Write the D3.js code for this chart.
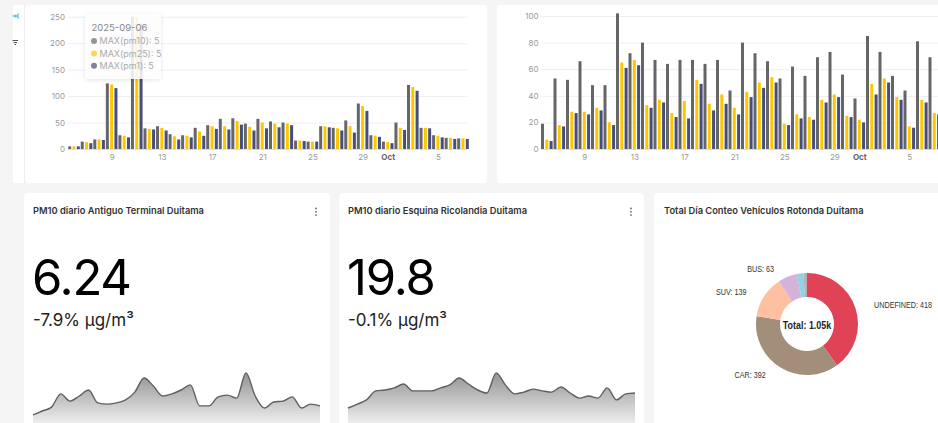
<!DOCTYPE html>
<html lang="en">
<head>
<meta charset="utf-8">
<title>Calidad del aire Duitama</title>
<script src="https://d3js.org/d3.v7.min.js" charset="utf-8"></script>
<style>
  body { margin: 0; background: #f5f5f5; font-family: Inter, "Noto Sans", sans-serif; }
  svg { display: block; }
  .axis path, .axis line { display: none; }
  .axis text { font-family: Inter, sans-serif; font-size: 8px; fill: #999; }
  .grid path { display: none; }
  .grid line { stroke: #eceef4; }
  .title { font-size: 9.3px; font-weight: 600; fill: #333; }
  .narrow { font-family: "Liberation Sans", Arial, sans-serif; }
</style>
</head>
<body>
<script>
// daily categories
const dates = ["2025-09-06","2025-09-07","2025-09-08","2025-09-09","2025-09-10","2025-09-11","2025-09-12","2025-09-13",
  "2025-09-14","2025-09-15","2025-09-16","2025-09-17","2025-09-18","2025-09-19","2025-09-20","2025-09-21",
  "2025-09-22","2025-09-23","2025-09-24","2025-09-25","2025-09-26","2025-09-27","2025-09-28","2025-09-29",
  "2025-09-30","2025-10-01","2025-10-02","2025-10-03","2025-10-04","2025-10-05","2025-10-06","2025-10-07"]
const seriesNames = ["MAX(pm10)", "MAX(pm25)", "MAX(pm1)"]
const seriesColors = ["#666666", "#FCC700", "#454E7C"]

// left bar chart
const leftPm10 = [5,14,18,124,26,250,39,43,28,26,40,45,57,58,48,57,52,50,16,14,43,40,54,86,26,14,50,121,40,26,21,20]
const leftPm25 = [5,13,18,122,25,250,38,40,24,25,33,43,43,53,42,50,48,48,16,14,43,39,43,81,25,13,40,117,40,25,21,20]
const leftPm1  = [5,11,17,115,22,237,37,35,18,22,25,38,37,46,35,39,41,45,15,14,41,35,31,72,23,11,36,110,39,22,19,19]
const leftYTicks = [0, 50, 100, 150, 200, 250]

// right bar chart
const rightPm10 = [19,53,52,66,48,48,102,72,80,67,64,67,67,64,67,44,80,72,66,53,62,55,69,73,56,38,85,73,55,44,81,69]
const rightPm25 = [7,18,28,28,31,20,65,67,33,37,27,36,52,34,41,31,43,50,54,19,26,24,37,41,25,22,49,53,39,17,37,27]
const rightPm1  = [6,17,27,26,29,18,61,63,31,35,24,23,49,29,34,26,39,46,50,18,23,22,35,39,24,20,41,50,37,16,35,26]
const rightYTicks = [0, 20, 40, 60, 80, 100]

const xTickDates = ["2025-09-09","2025-09-13","2025-09-17","2025-09-21","2025-09-25","2025-09-29","2025-10-01","2025-10-05"]

// big number cards
const cardTitles = ["PM10 diario Antiguo Terminal Duitama", "PM10 diario Esquina Ricolandia Duitama"]
const bigNumbers = ["6.24", "19.8"]
const subHeaders = ["-7.9% µg/m³", "-0.1% µg/m³"]
const trendA = [6.7,8,9.3,13.7,11.3,13,15,10.7,10.3,10.7,11.7,14.3,19,16.3,13,13.7,15,16.7,9.7,9.7,12.7,13.3,12.3,20.7,13,9,11,11.3,12.7,9,10.3,9.7]
const trendB = [9,10.3,11.7,14.7,15,15.7,17,14.7,14.7,14.7,15.7,16.7,19,17,15,14,20.7,16.7,13.7,14.3,15.3,14.7,14.3,16,14,12.3,13,12.3,15.7,11.7,13.7,14]

// donut
const vehicleTypes = ["UNDEFINED", "CAR", "SUV", "BUS", "TRUCK", "MOTORBIKE"]
const vehicleCounts = [418, 392, 139, 63, 22, 12]
const vehicleColors = ["#E04355", "#A38F79", "#FEC0A1", "#D3B3DA", "#8FD3E4", "#B2B2B2"]

const w = 938, h = 423
const parse = d3.timeParse("%Y-%m-%d")

const svg = d3.select("body").append("svg").attr("width", w).attr("height", h)

// cards
const cards = [[25,5,462,178],[497,5,460,178],[24,193,306,250],[339,193,305,250],[654,193,300,250]]
svg.selectAll("rect.card").data(cards).enter().append("rect")
  .attr("class", "card")
  .attr("x", d => d[0]).attr("y", d => d[1])
  .attr("width", d => d[2]).attr("height", d => d[3])
  .attr("rx", 4).attr("fill", "#fff")

// collapsed filter bar
svg.append("rect").attr("x", 13).attr("y", 5).attr("width", 11).attr("height", 178).attr("fill", "#fff")
svg.append("line").attr("x1", 24.5).attr("x2", 24.5).attr("y1", 5).attr("y2", 183).attr("stroke", "#eee")
svg.append("path").attr("d", "M12.5,16 H16.5 M15,14.5 L16.5,16 L15,17.5 M18,13.5 V18.5")
  .attr("stroke", "#1FA8C9").attr("fill", "none").attr("stroke-width", 1)
svg.append("path").attr("d", "M12.5,40.5 H18 M13.5,42.5 H17 M14.5,44.5 H16")
  .attr("stroke", "#555").attr("stroke-width", 1)

function drawBars(cfg) {
  const g = svg.append("g")
  const x = d3.scaleTime().domain([parse(dates[0]), parse(dates[dates.length - 1])]).range([cfg.x0, cfg.x1])
  const y = d3.scaleLinear().domain([0, d3.max(cfg.ticks)]).range([149, cfg.yTop])
  const sub = d3.scaleBand().domain(seriesNames).range([-5.8, 5.8]).paddingInner(0.3)

  g.append("g").attr("class", "grid")
    .attr("transform", "translate(" + cfg.gridX0 + ",0)")
    .call(d3.axisRight(y).tickValues(cfg.ticks).tickSize(cfg.gridX1 - cfg.gridX0).tickFormat(""))
  g.selectAll(".grid line").filter(d => d === 0).style("stroke", "#dcdde3")

  g.append("g").attr("class", "axis")
    .attr("transform", "translate(" + (cfg.gridX0 - 3) + ",0)")
    .call(d3.axisLeft(y).tickValues(cfg.ticks).tickSize(0).tickPadding(0))

  const xa = g.append("g").attr("class", "axis")
    .attr("transform", "translate(0,149)")
    .call(d3.axisBottom(x).tickValues(xTickDates.map(parse)).tickSize(0).tickPadding(5)
      .tickFormat(d => d.getDate() === 1 ? d3.timeFormat("%b")(d) : d3.timeFormat("%-d")(d)))
  xa.selectAll("text").filter(d => d.getDate() === 1).style("font-weight", "700").style("fill", "#666")

  const rows = dates.map((d, i) => ({ date: parse(d), values: cfg.series.map((s, k) => ({ name: seriesNames[k], v: s[i], k: k })) }))
  g.selectAll("g.day").data(rows).enter().append("g")
    .attr("transform", d => "translate(" + x(d.date) + ",0)")
    .selectAll("rect").data(d => d.values).enter().append("rect")
    .attr("x", d => sub(d.name))
    .attr("width", sub.bandwidth())
    .attr("y", d => y(d.v))
    .attr("height", d => y(0) - y(d.v))
    .attr("fill", d => seriesColors[d.k])
}

drawBars({ x0: 74, x1: 463, gridX0: 68, gridX1: 467, yTop: 16.7, ticks: leftYTicks, series: [leftPm10, leftPm25, leftPm1] })
drawBars({ x0: 546.8, x1: 934.3, gridX0: 541.5, gridX1: 960, yTop: 16, ticks: rightYTicks, series: [rightPm10, rightPm25, rightPm1] })

// tooltip on the left chart
const defs = svg.append("defs")
const sh = defs.append("filter").attr("id", "shadow").attr("x", "-20%").attr("y", "-20%").attr("width", "140%").attr("height", "140%")
sh.append("feDropShadow").attr("dx", 0).attr("dy", 1).attr("stdDeviation", 2).attr("flood-color", "#000").attr("flood-opacity", 0.12)
const tip = svg.append("g").attr("transform", "translate(85,14)")
tip.append("rect").attr("width", 76).attr("height", 65).attr("rx", 3)
  .attr("fill", "#fff").attr("fill-opacity", 0.86).attr("filter", "url(#shadow)")
tip.append("text").attr("x", 6.5).attr("y", 17).text(dates[0])
  .style("font-size", "9.5px").style("fill", "#888")
tip.selectAll("g.row").data(seriesNames).enter().append("g")
  .attr("transform", (d, i) => "translate(0," + (27 + i * 12.4) + ")")
  .each(function (d, i) {
    const r = d3.select(this)
    r.append("circle").attr("cx", 9).attr("cy", 0).attr("r", 3).attr("fill", seriesColors[i]).attr("opacity", 0.7)
    r.append("text").attr("x", 14.5).attr("y", 3.3)
      .text(d + ": " + [leftPm10, leftPm25, leftPm1][i][0])
      .style("font-size", "9px").style("fill", "#aaa")
  })

// big number cards
const bigCards = [{ x: 24, title: cardTitles[0], num: bigNumbers[0], sub: subHeaders[0], trend: trendA },
                  { x: 339, title: cardTitles[1], num: bigNumbers[1], sub: subHeaders[1], trend: trendB }]
const grad = defs.append("linearGradient").attr("id", "trendFill")
  .attr("gradientUnits", "userSpaceOnUse").attr("x1", 0).attr("x2", 0).attr("y1", 368).attr("y2", 430)
grad.append("stop").attr("offset", 0).attr("stop-color", "#8a8a8a")
grad.append("stop").attr("offset", 1).attr("stop-color", "#fafafa")

bigCards.forEach(c => {
  const g = svg.append("g").attr("transform", "translate(" + c.x + ",0)")
  g.append("text").attr("class", "title").attr("x", 9).attr("y", 213.5).text(c.title)
  g.selectAll("circle.k").data([0, 1, 2]).enter().append("circle")
    .attr("cx", 292).attr("cy", d => 208.5 + d * 3.3).attr("r", 0.9).attr("fill", "#666")
  g.append("text").attr("x", 8).attr("y", 295).text(c.num)
    .style("font-size", "49px").style("letter-spacing", "-1.2px").style("fill", "#000")
  g.append("text").attr("x", 9).attr("y", 326).text(c.sub)
    .style("font-size", "17px").style("fill", "#222")

  const x = d3.scaleLinear().domain([0, c.trend.length - 1]).range([9, 296])
  const y = d3.scaleLinear().domain([0, 25]).range([435, 360])
  g.append("path").datum(c.trend)
    .attr("d", d3.area().x((d, i) => x(i)).y0(y(0)).y1(d => y(d)).curve(d3.curveMonotoneX))
    .attr("fill", "url(#trendFill)")
  g.append("path").datum(c.trend)
    .attr("d", d3.line().x((d, i) => x(i)).y(d => y(d)).curve(d3.curveMonotoneX))
    .attr("fill", "none").attr("stroke", "#5f5f5f").attr("stroke-width", 1.4)
})

// donut card
svg.append("text").attr("class", "title").attr("x", 664).attr("y", 213.5).text("Total Día Conteo Vehículos Rotonda Duitama")
const total = d3.sum(vehicleCounts)
const pie = d3.pie().sort(null).value(d => d.v)
const arcs = pie(vehicleTypes.map((t, i) => ({ t: t, v: vehicleCounts[i], c: vehicleColors[i] })))
const arc = d3.arc().innerRadius(27).outerRadius(51)
const labelArc = d3.arc().innerRadius(60).outerRadius(60)
const donut = svg.append("g").attr("transform", "translate(807,324)")
donut.selectAll("path").data(arcs).enter().append("path")
  .attr("d", arc).attr("fill", d => d.data.c)
donut.selectAll("g.lbl").data(arcs.filter(d => d.data.v / total >= 0.05)).enter().append("g")
  .attr("transform", d => {
    const p = labelArc.centroid(d)
    return "translate(" + (p[0] + (p[0] > 0 ? 10 : -10)) + "," + p[1] + ") scale(0.82,1)"
  })
  .append("text")
  .attr("class", "narrow")
  .attr("dy", "0.35em")
  .attr("text-anchor", d => labelArc.centroid(d)[0] > 0 ? "start" : "end")
  .text(d => d.data.t + ": " + d.data.v)
  .style("font-size", "8.8px").style("fill", "#333")
donut.append("g").attr("transform", "translate(0,1) scale(0.85,1)")
  .append("text").attr("class", "narrow").attr("text-anchor", "middle").attr("dy", "0.35em")
  .text("Total: " + d3.format(".3s")(total))
  .style("font-size", "10.5px").style("font-weight", "700").style("fill", "#222")
</script>
</body>
</html>
